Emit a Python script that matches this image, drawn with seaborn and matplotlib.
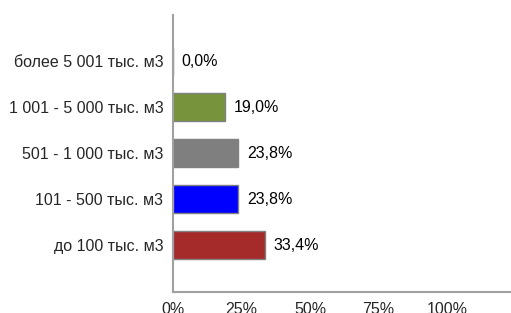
import matplotlib
matplotlib.use("Agg")
import matplotlib.pyplot as plt
import seaborn as sns
import pandas as pd

categories = ["более 5 001 тыс. м3", "1 001 - 5 000 тыс. м3", "501 - 1 000 тыс. м3",
              "101 - 500 тыс. м3", "до 100 тыс. м3"]
values = [0.0, 19.0, 23.8, 23.8, 33.4]
labels = ["0,0%", "19,0%", "23,8%", "23,8%", "33,4%"]
colors = ["#FFFFFF", "#77933C", "#7F7F7F", "#0000FF", "#A52A2A"]
xticks = [0, 25, 50, 75, 100]
xtick_labels = ["0%", "25%", "50%", "75%", "100%"]

df = pd.DataFrame({"cat": categories, "val": values})

sns.set_style("white")
plt.rcParams['font.family'] = ['Liberation Sans', 'DejaVu Sans']

fig = plt.figure(figsize=(5.11, 3.13), dpi=100)
ax = fig.add_axes([173/511, 1 - 292/313, 1 - 173/511, 277/313])

sns.barplot(data=df, x="val", y="cat", hue="cat", palette=colors, order=categories,
            hue_order=categories, legend=False, ax=ax, width=0.59, saturation=1,
            edgecolor="#808080", linewidth=1.0, dodge=False)

for i, (v, lab) in enumerate(zip(values, labels)):
    ax.text(v + 3.2, i, lab, va="center", ha="left", fontsize=11.5, color="#000000")

ax.set_xlim(0, 123.3)
ax.set_ylim(5.02, -1.0)
ax.set_xticks(xticks)
ax.set_xticklabels(xtick_labels)
ax.set_xlabel("")
ax.set_ylabel("")
ax.tick_params(axis="y", length=5, width=1, color="#A0A0A0", labelsize=11.5, pad=2)
ax.tick_params(axis="x", length=4, width=1, color="#A0A0A0", labelsize=11.5, pad=3)
for s in ["top", "right"]:
    ax.spines[s].set_visible(False)
for s in ["left", "bottom"]:
    ax.spines[s].set_color("#A0A0A0")
    ax.spines[s].set_linewidth(1.5)
ax.grid(False)

fig.savefig("out.png", dpi=100)
